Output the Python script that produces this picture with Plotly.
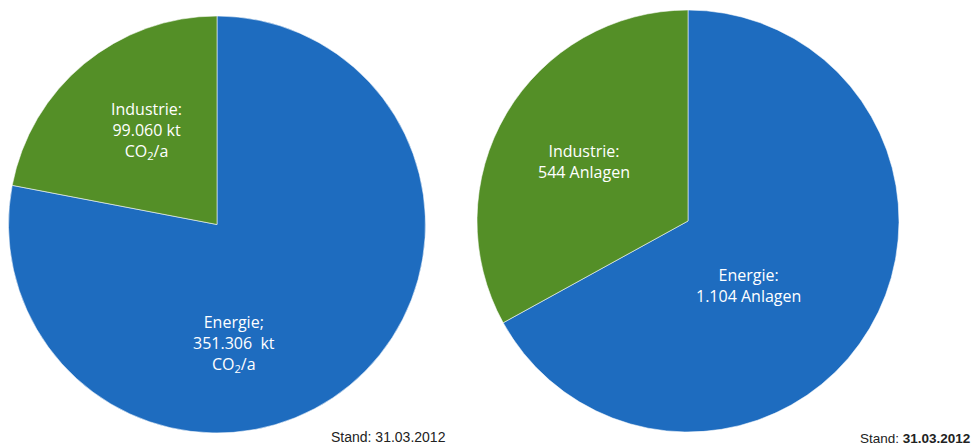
import plotly.graph_objects as go

# Emissions by sector (kt CO2/a) and number of installations
sectors = ["Energie", "Industrie"]
emissions_kt = [351306, 99060]
installations = [1104, 544]
stand_date = "31.03.2012"

BLUE = "#1E6CBF"
GREEN = "#548F27"
colors = [BLUE, GREEN]

W, H = 973, 446


def de_num(v):
    return f"{v:,}".replace(",", ".")


def dom_x(cx, r):
    return [(cx - r) / W, (cx + r) / W]


def dom_y(cy, r):
    return [(H - cy - r) / H, (H - cy + r) / H]


fig = go.Figure()

fig.add_trace(go.Pie(
    labels=sectors, values=emissions_kt, sort=False, direction="clockwise",
    rotation=0, textinfo="none", hoverinfo="label+value",
    marker=dict(colors=colors, line=dict(color="rgba(255,255,255,0.55)", width=1)),
    domain=dict(x=dom_x(217, 208.5), y=dom_y(224.5, 208.5)),
    showlegend=False,
))

fig.add_trace(go.Pie(
    labels=sectors, values=installations, sort=False, direction="clockwise",
    rotation=0, textinfo="none", hoverinfo="label+value",
    marker=dict(colors=colors, line=dict(color="rgba(255,255,255,0.55)", width=1)),
    domain=dict(x=dom_x(688, 211), y=dom_y(221, 211)),
    showlegend=False,
))

label_font = dict(family="Open Sans, Lato, sans-serif", size=16, color="white")

labels = [
    (146, 131, f"Industrie:<br>{de_num(emissions_kt[1])} kt<br>CO<sub>2</sub>/a"),
    (234, 343, f"Energie;<br>{de_num(emissions_kt[0])}  kt<br>CO<sub>2</sub>/a"),
    (584, 161, f"Industrie:<br>{de_num(installations[1])} Anlagen"),
    (748, 285, f"Energie:<br>{de_num(installations[0])} Anlagen"),
]
for x, y, t in labels:
    fig.add_annotation(
        x=x / W, y=(H - y) / H, xref="paper", yref="paper",
        text=t, showarrow=False, font=label_font, align="center",
        xanchor="center", yanchor="middle",
    )

fig.add_annotation(x=448 / W, y=(H - 437) / H, xref="paper", yref="paper",
                   text=f"Stand: {stand_date}", showarrow=False,
                   font=dict(family="Liberation Sans, Arial, sans-serif", size=14, color="#222222"),
                   xanchor="right", yanchor="middle")
fig.add_annotation(x=972 / W, y=(H - 438) / H, xref="paper", yref="paper",
                   text=f"Stand: <b>{stand_date}</b>", showarrow=False,
                   font=dict(family="Liberation Sans, Arial, sans-serif", size=13.5, color="#222222"),
                   xanchor="right", yanchor="middle")

fig.update_layout(
    width=W, height=H, margin=dict(l=0, r=0, t=0, b=0),
    paper_bgcolor="white", plot_bgcolor="white",
)

fig.write_html("out.html")
